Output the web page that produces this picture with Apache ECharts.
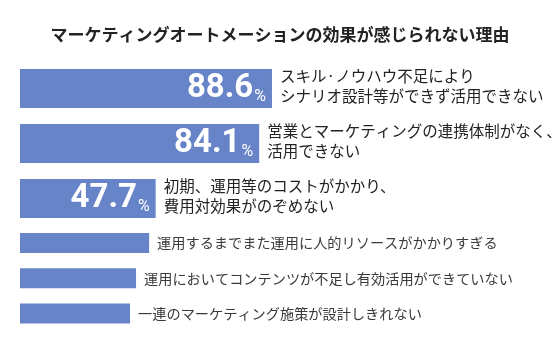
<!DOCTYPE html>
<html>
<head>
<meta charset="utf-8">
<script src="https://cdn.jsdelivr.net/npm/echarts@6/dist/echarts.min.js"></script>
<style>
  html, body { margin: 0; padding: 0; background: #fff; }
  #chart { width: 560px; height: 350px; }
</style>
</head>
<body>
<div id="chart"></div>
<script>
// Reasons (top three are the highlighted ones with value labels)
const topReasons = [
  'スキル·ノウハウ不足により\nシナリオ設計等ができず活用できない',
  '営業とマーケティングの連携体制がなく、\n活用できない',
  '初期、運用等のコストがかかり、\n費用対効果がのぞめない'
];
const topValues = [88.6, 84.1, 47.7];

const otherReasons = [
  '運用するまでまた運用に人的リソースがかかりすぎる',
  '運用においてコンテンツが不足し有効活用ができていない',
  '一連のマーケティング施策が設計しきれない'
];
const otherValues = [45.4, 40.8, 38.7];

const titleText = 'マーケティングオートメーションの効果が感じられない理由';

const BAR_COLOR = '#6884c8';
const JP_FONT = '"Noto Sans CJK JP", "Noto Sans", sans-serif';

const chart = echarts.init(document.getElementById('chart'), null, { renderer: 'canvas' });

const hiddenValueAxis = (gridIndex) => ({
  type: 'value', gridIndex: gridIndex, min: 0, max: 100,
  show: false, splitLine: { show: false }
});
const hiddenCatAxis = (gridIndex, data) => ({
  type: 'category', gridIndex: gridIndex, data: data, inverse: true,
  show: false
});

chart.setOption({
  animation: false,
  backgroundColor: '#ffffff',
  title: {
    text: titleText,
    left: 'center',
    top: 21,
    textStyle: { fontFamily: JP_FONT, fontSize: 17, fontWeight: 'bold', color: '#222' }
  },
  grid: [
    { left: 20, width: 284.4, top: 61, height: 165 },
    { left: 20, width: 284.4, top: 225.5, height: 105.5 }
  ],
  xAxis: [hiddenValueAxis(0), hiddenValueAxis(1)],
  yAxis: [hiddenCatAxis(0, topReasons), hiddenCatAxis(1, otherReasons)],
  series: [
    {
      // highlighted bars with the percentage written inside
      type: 'bar',
      xAxisIndex: 0, yAxisIndex: 0,
      data: topValues,
      barWidth: 39,
      itemStyle: { color: BAR_COLOR },
      label: {
        show: true,
        position: 'insideRight',
        distance: 6,
        formatter: (p) => '{num|' + p.value.toFixed(1) + '}{pct|%}',
        rich: {
          num: { fontFamily: 'Roboto, sans-serif', fontSize: 33, fontWeight: 'bold', color: '#fff', lineHeight: 36 },
          pct: { fontFamily: 'Roboto, sans-serif', fontSize: 16, color: '#fff', lineHeight: 36, verticalAlign: 'bottom', padding: [0, 0, 2, 1] }
        }
      }
    },
    {
      // reason text placed just past each highlighted bar
      type: 'bar',
      xAxisIndex: 0, yAxisIndex: 0,
      data: topValues,
      barWidth: 39,
      barGap: '-100%',
      silent: true,
      itemStyle: { color: 'rgba(0,0,0,0)' },
      label: {
        show: true,
        position: 'right',
        distance: 8,
        offset: [0, -2],
        formatter: '{b}',
        fontFamily: JP_FONT,
        fontSize: 15.5,
        lineHeight: 20,
        color: '#222'
      }
    },
    {
      type: 'bar',
      xAxisIndex: 1, yAxisIndex: 1,
      data: otherValues,
      barWidth: 20,
      itemStyle: { color: BAR_COLOR },
      label: {
        show: true,
        position: 'right',
        distance: 8,
        formatter: '{b}',
        fontFamily: JP_FONT,
        fontSize: 14.2,
        color: '#3a3a3a'
      }
    }
  ]
});
</script>
</body>
</html>
